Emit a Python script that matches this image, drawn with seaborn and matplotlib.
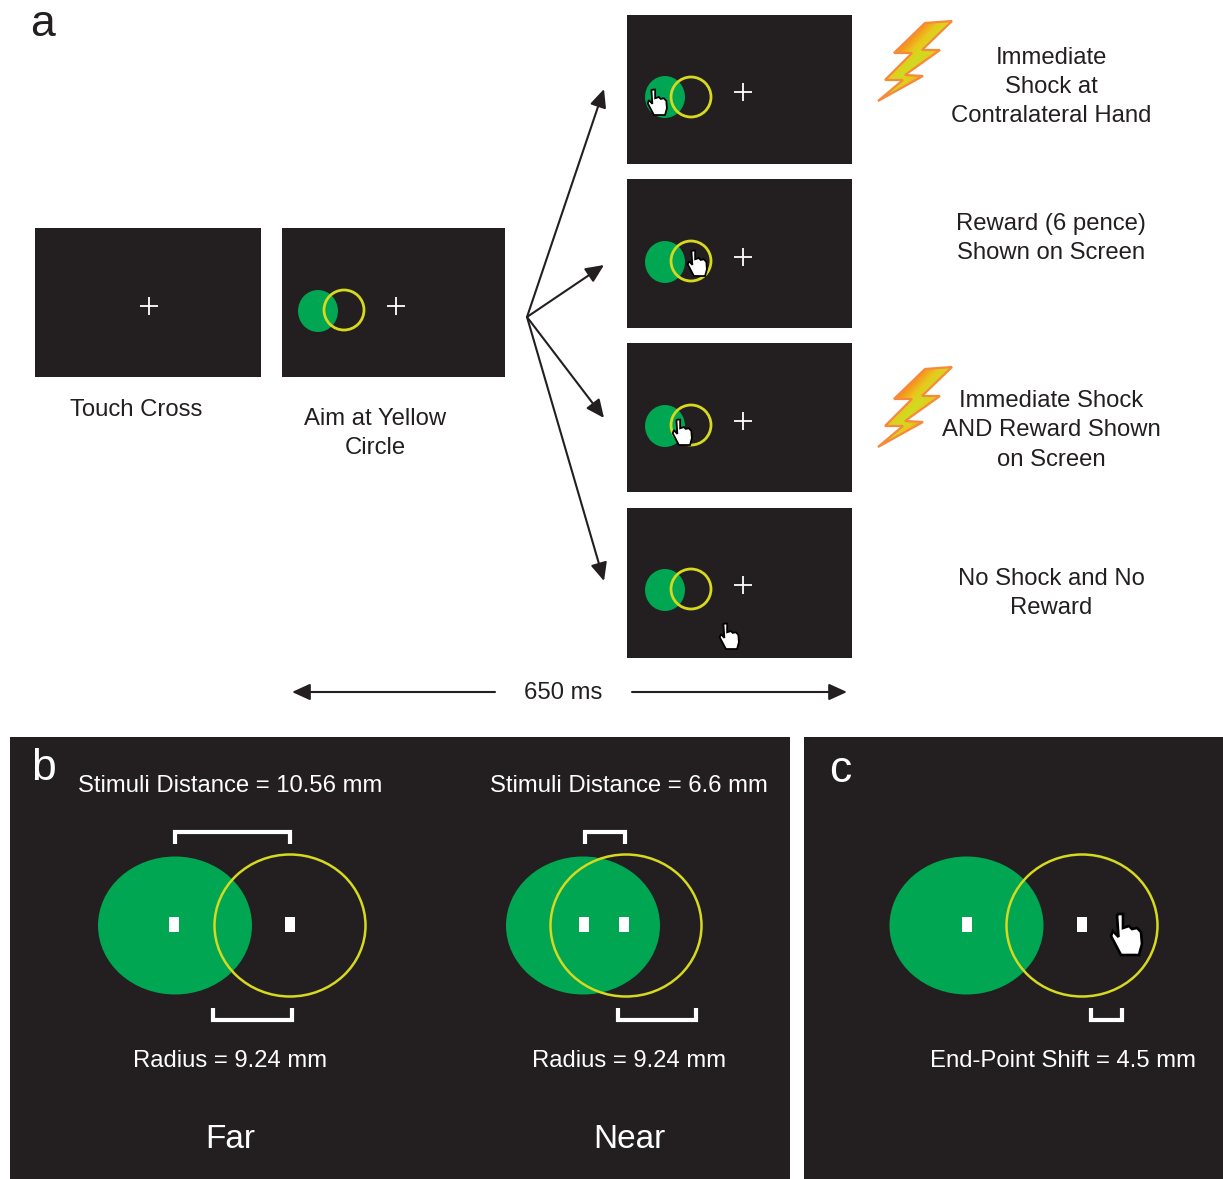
import numpy as np
import pandas as pd
import matplotlib.pyplot as plt
import seaborn as sns
from matplotlib.colors import LinearSegmentedColormap
from matplotlib.patches import Ellipse, FancyArrowPatch, Polygon, Rectangle

# ---- data (in image pixels) ----
W, H = 1223, 1179
DARK = "#231f20"
GREEN = "#00a651"
YELLOW = "#d6d91e"

# screens: x0, y0, x1, y1
panel_x0 = [35, 282, 627, 627, 627, 627, 10, 804]
panel_y0 = [228, 228, 15, 179, 343, 508, 737, 737]
panel_x1 = [261, 505, 852, 852, 852, 852, 790, 1223]
panel_y1 = [377, 377, 164, 328, 492, 658, 1179, 1179]

# small stimulus pairs
small_green_x = [318, 665, 665, 665, 665]
small_green_y = [311, 97, 262, 426, 590]
small_yellow_x = [344, 691, 691, 691, 691]
small_yellow_y = [310, 97, 261, 425, 589]

cross_x = [149, 396, 743, 743, 743, 743]
cross_y = [306, 306, 92, 257, 421, 585]

# big stimulus pairs (far, near, shift)
big_green_x = [175, 583, 966.5]
big_yellow_x = [290, 626, 1082]
big_y = [925, 925, 925]
dot_x = [174, 290, 584, 624, 967, 1082]
dot_y = [924, 924, 924, 924, 924, 924]

# brackets: left, right, open end, bar
bracket_left = [175, 213, 585, 618, 1091]
bracket_right = [290, 292, 625, 696, 1122]
bracket_open = [844, 1008, 844, 1008, 1008]
bracket_bar = [832, 1020, 832, 1020, 1020]

# hands: x, y, scale
hand_x = [657, 697, 682, 729, 1126]
hand_y = [102, 263, 432, 636, 934]
hand_scale = [0.62, 0.62, 0.62, 0.62, 1.0]
hand_outline_x = [-7, -3, -3, 3, 6, 11, 15, 16, 13, -5, -15, -13, -7.5, -9]
hand_outline_y = [-20, -20, -6, -8, -5, -6, -2, 10, 21, 21, 2, -3, 3, -19]

# arrows
arrow_x0 = [527, 527, 527, 527, 495, 632]
arrow_y0 = [317, 317, 317, 317, 692, 692]
arrow_x1 = [604, 604, 604, 604, 292, 847]
arrow_y1 = [89, 265, 418, 581, 692, 692]

# lightning bolts
bolt_x = [952, 925, 894, 912, 885, 903, 878, 923, 905, 940, 922]
bolt_y = [21, 23, 53, 53, 80, 80, 101, 76, 75, 50, 50]
bolt_offset = [0, 346]

# dark text on white
label_text = ["Touch Cross", "Aim at Yellow", "Circle",
              "Immediate", "Shock at", "Contralateral Hand",
              "Reward (6 pence)", "Shown on Screen",
              "Immediate Shock", "AND Reward Shown", "on Screen",
              "No Shock and No", "Reward", "650 ms"]
label_x = [136, 375, 375, 1051, 1051, 1051, 1051, 1051, 1051, 1051, 1051, 1051, 1051, 563]
label_y = [410, 419, 448, 58, 87, 116, 224, 253, 401, 430, 460, 579, 608, 693]

# white text on the bottom panels
note_text = ["Stimuli Distance = 10.56 mm", "Stimuli Distance = 6.6 mm",
             "Radius = 9.24 mm", "Radius = 9.24 mm", "End-Point Shift = 4.5 mm"]
note_x = [230, 629, 230, 629, 1062.5]
note_y = [786, 786, 1061, 1061, 1061]
cond_text = ["Far", "Near"]
cond_x = [230, 629]
cond_y = [1140, 1140]

letter_text = ["a", "b", "c"]
letter_x = [42, 43, 840]
letter_y = [25, 769, 770]
letter_color = [DARK, "white", "white"]

# ---- figure ----
sns.set_theme(style="white")
plt.rcParams["font.family"] = ["Liberation Sans", "DejaVu Sans"]

fig = plt.figure(figsize=(W / 100, H / 100), dpi=100)
ax = fig.add_axes([0, 0, 1, 1])
ax.axis("off")

for x0, y0, x1, y1 in zip(panel_x0, panel_y0, panel_x1, panel_y1):
    ax.add_patch(Rectangle((x0, y0), x1 - x0, y1 - y0, fc=DARK, ec="none", zorder=1))

# small stimuli
for gx, gy, yx, yy in zip(small_green_x, small_green_y, small_yellow_x, small_yellow_y):
    ax.add_patch(Ellipse((gx, gy), 40, 42, fc=GREEN, ec="none", zorder=2))
    ax.add_patch(Ellipse((yx, yy), 40, 40, fc="none", ec=YELLOW, lw=2, zorder=3))

# big stimuli
for gx, yx, y in zip(big_green_x, big_yellow_x, big_y):
    ax.add_patch(Ellipse((gx, y + 0.5), 154, 138, fc=GREEN, ec="none", zorder=2))
    ax.add_patch(Ellipse((yx, y + 0.5), 151, 142, fc="none", ec=YELLOW, lw=1.8, zorder=3))
for x, y in zip(dot_x, dot_y):
    ax.add_patch(Rectangle((x - 5, y - 7.5), 10, 15, fc="white", ec="none", zorder=4))

crosses = pd.DataFrame({"x": cross_x, "y": cross_y})
sns.scatterplot(data=crosses, x="x", y="y", marker="+", s=150, color="white",
                linewidth=1.3, zorder=4, legend=False, ax=ax)

# brackets
for left, right, y_open, y_bar in zip(bracket_left, bracket_right, bracket_open, bracket_bar):
    sns.lineplot(x=[left, left, right, right], y=[y_open, y_bar, y_bar, y_open],
                 sort=False, estimator=None, color="white", linewidth=3,
                 solid_joinstyle="miter", solid_capstyle="butt", zorder=4, ax=ax)

# hands
for hx, hy, scale in zip(hand_x, hand_y, hand_scale):
    verts = np.column_stack([hx + np.array(hand_outline_x) * scale,
                             hy + np.array(hand_outline_y) * scale])
    ax.add_patch(Polygon(verts, closed=True, fc="white", ec="black",
                         lw=1.6 * scale + 0.3, zorder=5))

# arrows
for x0, y0, x1, y1 in zip(arrow_x0, arrow_y0, arrow_x1, arrow_y1):
    ax.add_patch(FancyArrowPatch((x0, y0), (x1, y1),
                                 arrowstyle="-|>,head_length=11,head_width=5",
                                 color=DARK, lw=1.5, shrinkA=0, shrinkB=0,
                                 mutation_scale=1, zorder=3))

# lightning bolts, gradient across the bolt
bolt_cmap = LinearSegmentedColormap.from_list("bolt", ["#cfdc1e", "#e8c81e", "#f7941d"])
for dy in bolt_offset:
    gx, gy = np.meshgrid(np.linspace(875, 955, 120), np.linspace(18 + dy, 104 + dy, 120))
    across = np.abs((gx - 915) * 0.73 + (gy - 61 - dy) * 0.68) / 18
    im = ax.imshow(across, extent=(875, 955, 104 + dy, 18 + dy), cmap=bolt_cmap,
                   vmin=0, vmax=1, aspect="auto", zorder=2)
    bolt = Polygon(np.column_stack([bolt_x, np.array(bolt_y) + dy]), closed=True,
                   fc="none", ec="#f58a3c", lw=1.6, zorder=3)
    ax.add_patch(bolt)
    im.set_clip_path(bolt)

# text
for s, x, y in zip(label_text, label_x, label_y):
    ax.text(x, y, s, color=DARK, fontsize=17.2, ha="center", va="center", zorder=6)
for s, x, y in zip(note_text, note_x, note_y):
    ax.text(x, y, s, color="white", fontsize=17.2, ha="center", va="center", zorder=6)
for s, x, y in zip(cond_text, cond_x, cond_y):
    ax.text(x, y, s, color="white", fontsize=24, ha="center", va="center", zorder=6)
for s, x, y, c in zip(letter_text, letter_x, letter_y, letter_color):
    ax.text(x, y, s, color=c, fontsize=32, ha="center", va="center", zorder=6)

ax.set_xlim(0, W)
ax.set_ylim(H, 0)

fig.savefig("out.png", dpi=100, facecolor="white")
